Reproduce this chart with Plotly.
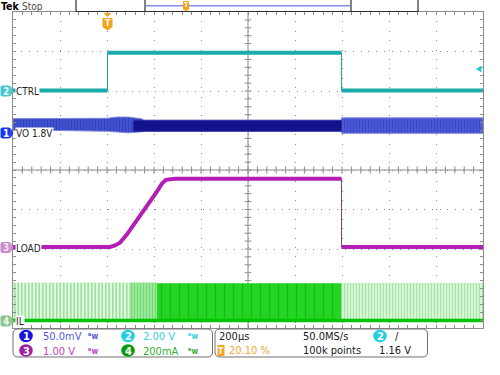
import plotly.graph_objects as go

# ---------------- data ----------------
# time in microseconds relative to trigger; 200 us/div, trigger at 20.10 %
t_start, t_end = -402, 1598

# CH2  CTRL  (V)
ctrl_t = [-402, 0, 0, 996, 996, 1598]
ctrl_v = [0.0, 0.0, 1.92, 1.92, 0.0, 0.0]

# CH3  LOAD  (V)
load_t = [-402, 11, 32, 53, 83, 138, 211, 232, 249, 287, 996, 996, 1598]
load_v = [0.0, 0.0, 0.04, 0.11, 0.32, 0.77, 1.41, 1.61, 1.70, 1.73, 1.73, 0.0, 0.0]

# CH1  VO ripple envelope (mV, relative to channel marker)
vo_pre_t = [-402, -200, 0, 40, 90, 150]
vo_pre_hi = [17.5, 17.5, 18.0, 19.5, 19.5, 17.0]
vo_pre_lo = [2.5, 2.5, 1.5, 0.5, -0.5, 1.0]
vo_on_t = [110, 996]
vo_on_hi = [15.5, 15.5]
vo_on_lo = [1.5, 1.5]
vo_post_t = [996, 1598]
vo_post_hi = [18.5, 18.5]
vo_post_lo = [-1.0, -1.0]

# CH4  IL switching-pulse regions (mA)
il_t0 = [-402, 96, 210, 996]
il_t1 = [96, 210, 996, 1598]
il_peak = [192, 192, 188, 190]
il_base_t = [-402, 1598]
il_base_v = [0, 0]

# channel settings (per division) and on-screen ground positions (div)
ch_scale = {"VO": 50.0, "CTRL": 2.0, "LOAD": 1.0, "IL": 200.0}
ch_pos = {"VO": 0.95, "CTRL": 2.01, "LOAD": -1.95, "IL": -3.81}

# readout texts
ch_text = ["50.0mV", "2.00 V", "1.00 V", "200mA"]
hor_text = ["200µs", "50.0MS/s", "20.10 %", "100k points", "1.16 V"]

# ---------------- helpers ----------------
L, R, T, B = 13, 483, 12, 328


def PX(x):
    return (x - L) / (R - L)


def PY(y):
    return (B - y) / (B - T)


def dv(ch, vals):
    return [v / ch_scale[ch] + ch_pos[ch] for v in vals]


def level_segments(ts, vs):
    xs, ys = [], []
    for i in range(len(ts) - 1):
        if ts[i] == ts[i + 1]:
            xs.append(None)
            ys.append(None)
            continue
        xs += [ts[i], ts[i + 1]]
        ys += [vs[i], vs[i + 1]]
    return xs, ys


def band(ts, hi, lo):
    return ts + ts[::-1] + [ts[0]], hi + lo[::-1] + [hi[0]]


fig = go.Figure()

# ---- VO (ch1) ----
bx, by = band(vo_pre_t, vo_pre_hi, vo_pre_lo)
fig.add_trace(go.Scatter(x=bx, y=dv("VO", by), fill="toself", mode="lines",
                         line=dict(width=1, color="#7c86dc"),
                         fillpattern=dict(shape="|", fgcolor="#1828b8", bgcolor="#4c5cd0",
                                          size=3, solidity=0.6)))
bx, by = band(vo_post_t, vo_post_hi, vo_post_lo)
fig.add_trace(go.Scatter(x=bx, y=dv("VO", by), fill="toself", mode="lines",
                         line=dict(width=1, color="#7c86dc"),
                         fillpattern=dict(shape="|", fgcolor="#1a2ac4", bgcolor="#5864d6",
                                          size=3, solidity=0.6)))
bx, by = band(vo_on_t, vo_on_hi, vo_on_lo)
fig.add_trace(go.Scatter(x=bx, y=dv("VO", by), fill="toself", mode="lines",
                         line=dict(width=1, color="#2a2aa8"), fillcolor="#12128a"))

# ---- IL (ch4) ----
il_styles = [
    dict(fg="#52cc52", bg="#e6f9e6", size=3.5, sol=0.5),
    dict(fg="#3cc83c", bg="#a8eca8", size=3, sol=0.5),
    dict(fg="#129a12", bg="#22d622", size=9, sol=0.14),
    dict(fg="#5cd05c", bg="#e8fae8", size=3, sol=0.5),
]
for t0, t1, pk, st in zip(il_t0, il_t1, il_peak, il_styles):
    fig.add_trace(go.Scatter(x=[t0, t0, t1, t1, t0],
                             y=dv("IL", [0, pk, pk, 0, 0]),
                             fill="toself", mode="lines", line=dict(width=0),
                             fillpattern=dict(shape="|", fgcolor=st["fg"], bgcolor=st["bg"],
                                              size=st["size"], solidity=st["sol"])))
fig.add_trace(go.Scatter(x=il_base_t, y=dv("IL", il_base_v), mode="lines",
                         line=dict(width=3.5, color="#00c400")))

# ---- CTRL (ch2) ----
fig.add_trace(go.Scatter(x=ctrl_t, y=dv("CTRL", ctrl_v), mode="lines",
                         line=dict(width=1, color="#2a9c9c")))
sx, sy = level_segments(ctrl_t, ctrl_v)
fig.add_trace(go.Scatter(x=sx, y=[None if v is None else v / ch_scale["CTRL"] + ch_pos["CTRL"] for v in sy],
                         mode="lines", line=dict(width=4, color="#1aabab")))

# ---- LOAD (ch3) ----
fig.add_trace(go.Scatter(x=load_t, y=dv("LOAD", load_v), mode="lines",
                         line=dict(width=1, color="#80408a")))
sx, sy = level_segments(load_t, load_v)
fig.add_trace(go.Scatter(x=sx, y=[None if v is None else v / ch_scale["LOAD"] + ch_pos["LOAD"] for v in sy],
                         mode="lines", line=dict(width=4, color="#b41eb4")))

# ---------------- graticule ----------------
gcol = "#8c8c8c"
shapes = []
ann = []

# center cross with minor ticks
tc = (t_start + t_end) / 2
shapes.append(dict(type="line", x0=t_start, x1=t_end, y0=0, y1=0, xref="x", yref="y",
                   line=dict(color=gcol, width=1), layer="below"))
shapes.append(dict(type="line", x0=tc, x1=tc, y0=-4, y1=4, xref="x", yref="y",
                   line=dict(color=gcol, width=1), layer="below"))
for k in range(1, 50):
    t = t_start + 40 * k
    shapes.append(dict(type="line", x0=t, x1=t, y0=-0.09, y1=0.09, xref="x", yref="y",
                       line=dict(color=gcol, width=1), layer="below"))
for k in range(1, 40):
    y = -4 + 0.2 * k
    shapes.append(dict(type="line", x0=tc - 14, x1=tc + 14, y0=y, y1=y, xref="x", yref="y",
                       line=dict(color=gcol, width=1), layer="below"))


def pshape(path, fill, line=None, lw=0):
    d = dict(type="path", path=path, xref="paper", yref="paper", fillcolor=fill,
             line=dict(width=lw, color=line or fill))
    return d


def pth(points, close=True):
    s = "M " + " L ".join(f"{PX(x):.5f},{PY(y):.5f}" for x, y in points)
    return s + (" Z" if close else "")


def rrect(x0, y0, x1, y1, r):
    p = [f"M {PX(x0 + r):.5f},{PY(y0):.5f}",
         f"L {PX(x1 - r):.5f},{PY(y0):.5f}",
         f"Q {PX(x1):.5f},{PY(y0):.5f} {PX(x1):.5f},{PY(y0 + r):.5f}",
         f"L {PX(x1):.5f},{PY(y1 - r):.5f}",
         f"Q {PX(x1):.5f},{PY(y1):.5f} {PX(x1 - r):.5f},{PY(y1):.5f}",
         f"L {PX(x0 + r):.5f},{PY(y1):.5f}",
         f"Q {PX(x0):.5f},{PY(y1):.5f} {PX(x0):.5f},{PY(y1 - r):.5f}",
         f"L {PX(x0):.5f},{PY(y0 + r):.5f}",
         f"Q {PX(x0):.5f},{PY(y0):.5f} {PX(x0 + r):.5f},{PY(y0):.5f} Z"]
    return " ".join(p)


FONT = "Liberation Sans Narrow, DejaVu Sans Condensed, Roboto Condensed, Liberation Sans, Arial"


def text(x, y, s, color="#202020", size=11, anchor="left", bg=None, bold=False, yanchor="middle"):
    d = dict(x=PX(x), y=PY(y), xref="paper", yref="paper", text=(f"<b>{s}</b>" if bold else s),
             showarrow=False, xanchor=anchor, yanchor=yanchor,
             font=dict(family=FONT, size=size, color=color), borderpad=0)
    if bg:
        d["bgcolor"] = bg
    ann.append(d)


# ---- top bar ----
text(0, 6.5, "Tek", "#000000", 10.5, bold=True)
text(21, 6.5, "Stop", "#4a4a4a", 10)
shapes.append(pshape(pth([(76, -1), (418, -1), (418, 11.5), (76, 11.5)]), "white", "#303030", 1.2))
shapes.append(dict(type="line", xref="paper", yref="paper", x0=PX(145), x1=PX(145), y0=PY(-1), y1=PY(11.5),
                   line=dict(color="#303030", width=1.2)))
shapes.append(dict(type="line", xref="paper", yref="paper", x0=PX(351), x1=PX(351), y0=PY(-1), y1=PY(11.5),
                   line=dict(color="#303030", width=1.2)))
shapes.append(dict(type="line", xref="paper", yref="paper", x0=PX(146), x1=PX(350), y0=PY(5.7), y1=PY(5.7),
                   line=dict(color="#8a8aea", width=1.5)))
shapes.append(pshape(pth([(183, 1), (189, 1), (189, 9), (186, 11.5), (183, 9)]), "#f5a21c"))
text(186, 5.5, "T", "white", 7, anchor="center", bold=True)

# ---- trigger position marker ----
shapes.append(pshape(pth([(103.5, 13), (111.5, 13), (107.5, 17)]), "#f5a21c"))
shapes.append(pshape(pth([(102.5, 18), (112.5, 18), (112.5, 27), (107.5, 30.5), (102.5, 27)]), "#f5a21c"))
text(107.5, 23.5, "T", "white", 9, anchor="center", bold=True)

# ---- trigger level arrow (right) ----
shapes.append(pshape(pth([(476, 69), (481.5, 65.5), (481.5, 72.5)]), "#22c8d8"))

# ---- channel ground tags + labels ----
tags = [("2", 91, "#48c4ca", "#e6fafa", "CTRL"),
        ("1", 133, "#1836f0", "#ffffff", "VO 1.8V"),
        ("3", 247.5, "#c98bc9", "#f6e6f6", "LOAD"),
        ("4", 321, "#8cc48c", "#eef8ee", "IL")]
for num, y, col, tcol, lab in tags:
    shapes.append(pshape(rrect(0.5, y - 5.5, 10.5, y + 5.5, 2), col))
    shapes.append(pshape(pth([(10.3, y - 5.5), (13.5, y), (10.3, y + 5.5)]), col))
    text(6, y, num, tcol, 10, anchor="center", bold=True)
for num, y, col, tcol, lab in tags:
    text(14.5, y + 0.5, lab, "#1e1e1e", 10, bg="white")

# ---- bottom readout ----
shapes.append(pshape(rrect(13, 329, 212.5, 357, 5), "white", "#707070", 1))
shapes.append(pshape(rrect(215, 329, 427.5, 357, 5), "white", "#707070", 1))

circ = [(26, 336, "#1616e0", "1", ch_text[0], "#5656e0", 42, 93),
        (128, 336, "#22cfe0", "2", ch_text[1], "#32d0e0", 142, 193),
        (26, 350.5, "#a01ea0", "3", ch_text[2], "#c23fc2", 42, 93),
        (128, 350.5, "#0e980e", "4", ch_text[3], "#30b030", 142, 193)]
for cx, cy, ccol, num, s, tcol, tx, bwx in circ:
    shapes.append(dict(type="circle", xref="paper", yref="paper",
                       x0=PX(cx - 6.8), x1=PX(cx + 6.8), y0=PY(cy + 6.2), y1=PY(cy - 6.2),
                       fillcolor=ccol, line=dict(width=0)))
    text(cx, cy + 0.5, num, "white", 11, anchor="center", bold=True)
    text(tx, cy + 0.5, s, tcol, 11)
    text(bwx, cy + 0.5, "ᴮw", tcol, 8, anchor="center", bold=True)

text(218, 336.5, hor_text[0], "#202020", 11)
text(302, 336.5, hor_text[1], "#202020", 11)
text(302, 350.5, hor_text[3], "#202020", 11)
text(378, 350.5, hor_text[4], "#202020", 11)
shapes.append(pshape(pth([(217.5, 345), (224.5, 345), (224.5, 356), (217.5, 356)]), "#f5a21c"))
text(221, 350.5, "T", "white", 8.5, anchor="center", bold=True)
text(228, 350.5, hor_text[2], "#f5a830", 11)
shapes.append(dict(type="circle", xref="paper", yref="paper",
                   x0=PX(380 - 6.8), x1=PX(380 + 6.8), y0=PY(336 + 6.2), y1=PY(336 - 6.2),
                   fillcolor="#22cfe0", line=dict(width=0)))
text(380, 336.5, "2", "white", 11, anchor="center", bold=True)
text(397, 336.5, "/", "#202020", 11, anchor="center")

fig.update_layout(
    width=500, height=375,
    margin=dict(l=L, r=500 - R, t=T, b=375 - B, pad=0),
    plot_bgcolor="white", paper_bgcolor="white",
    showlegend=False, hovermode=False,
    shapes=shapes, annotations=ann,
    xaxis=dict(range=[t_start, t_end], tick0=t_start, dtick=200, showticklabels=False,
               showgrid=True, gridcolor="#8a8a8a", gridwidth=1, griddash="1px,8.4px",
               zeroline=False, showline=True, linecolor=gcol, linewidth=1, mirror="ticks",
               ticks="inside", ticklen=3, tickcolor=gcol,
               minor=dict(dtick=40, tick0=t_start, ticks="inside", ticklen=3, tickcolor=gcol, showgrid=False),
               fixedrange=True),
    yaxis=dict(range=[-4, 4], tick0=-4, dtick=1, showticklabels=False,
               showgrid=True, gridcolor="#8a8a8a", gridwidth=1, griddash="1px,6.9px",
               zeroline=False, showline=True, linecolor=gcol, linewidth=1, mirror="ticks",
               ticks="inside", ticklen=3, tickcolor=gcol,
               minor=dict(dtick=0.2, tick0=-4, ticks="inside", ticklen=3, tickcolor=gcol, showgrid=False),
               fixedrange=True),
)

fig.write_html("out.html", config=dict(displayModeBar=False, staticPlot=True),
               post_script="document.body.style.margin='0';document.body.style.padding='0';")
